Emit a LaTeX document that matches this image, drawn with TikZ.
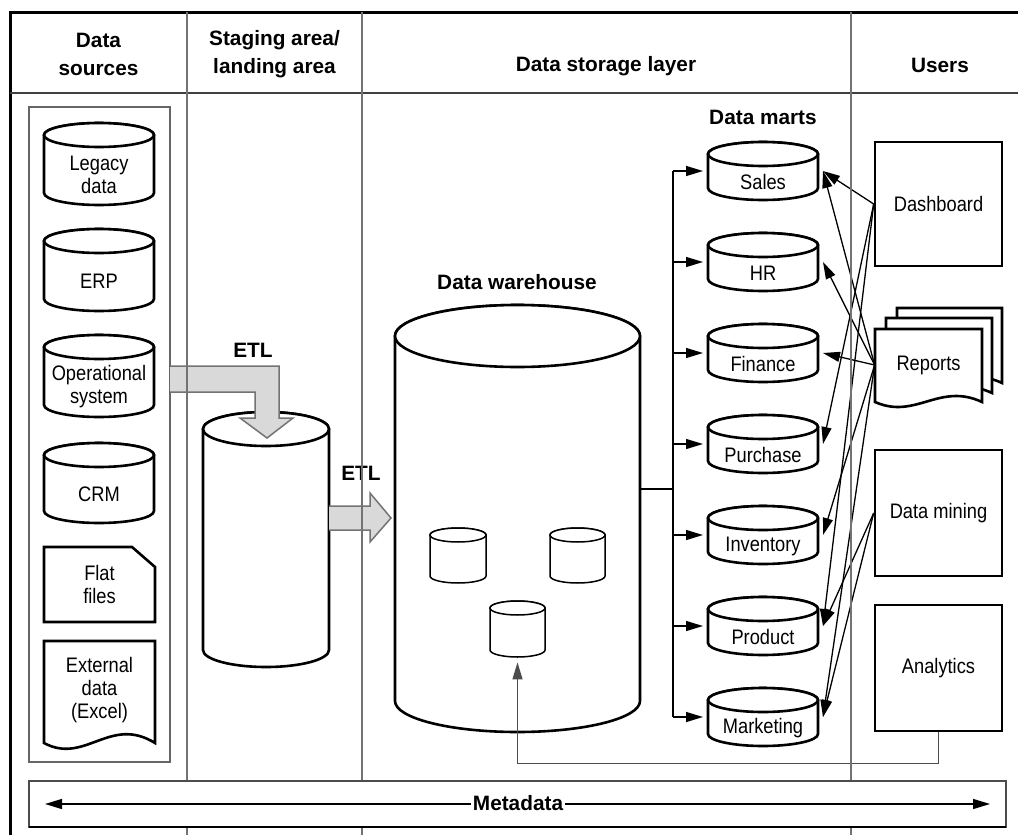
\documentclass[tikz,border=0pt]{standalone}
\usepackage{fontspec}
\setmainfont{Liberation Sans}
\newfontfamily\narrowsans{Liberation Sans}[FakeStretch=0.87]
\usetikzlibrary{arrows.meta}

% cylinder: name, left x, top y, width, height, cap radius, line style
\newcommand\drum[7]{%
  \draw[#7] ({#2},{#3+#6}) -- ({#2},{#3+#5-#6})
     arc[start angle=180,end angle=0,x radius={#4/2},y radius={#6}]
     -- ({#2+#4},{#3+#6})
     arc[start angle=0,end angle=-180,x radius={#4/2},y radius={#6}] -- cycle;
  \draw[#7] ({#2+#4/2},{#3+#6}) ellipse[x radius={#4/2},y radius={#6}];
  \node[drumnode,minimum width={#4*0.5pt},minimum height={#5*0.5pt}] (#1) at ({#2+#4/2},{#3+#5/2}) {};
}
% document sheet with a wavy lower edge: left x, top y, width, base y, style
\newcommand\sheet[5]{%
  \draw[#5] ({#1},{#2}) -- ({#1+#3},{#2}) -- ({#1+#3},{#4})
     .. controls ({#1+0.6*#3},{#4-20}) and ({#1+0.38*#3},{#4+18}) .. ({#1},{#4}) -- cycle;
}

\begin{document}
\begin{tikzpicture}[x=0.5pt,y=-0.5pt,
  >={Triangle[length=8.5pt,width=5pt]},
  every node/.style={inner sep=0pt},
  lbl/.style={font=\narrowsans\fontsize{10.5}{11.5}\selectfont,align=center},
  head/.style={font=\bfseries\fontsize{10.4}{14}\selectfont,align=center},
  bold/.style={font=\bfseries\fontsize{10.4}{12.5}\selectfont},
  frame/.style={line width=1.5pt,draw=black},
  colline/.style={line width=0.75pt,draw=black!55},
  hline/.style={line width=0.8pt,draw=black!75},
  group/.style={line width=0.6pt,draw=black!60},
  shp/.style={line width=1.3pt,draw=black,fill=white},
  thinshp/.style={line width=0.75pt,draw=black,fill=white},
  etl/.style={line width=0.75pt,draw=black!55,fill=black!15},
  conn/.style={line width=0.65pt,draw=black},
  fb/.style={line width=0.65pt,draw=black!70},
  drumnode/.style={},
]
\useasboundingbox (0,0) rectangle (1018,835);
\fill[white] (0,0) rectangle (1018,835);

% ---------- frame and header ----------
\draw[frame] (10,835) -- (10,12) -- (1018,12);
\draw[hline] (10,93) -- (1018,93);
\node[head] (h-src) at (98.5,54) {Data\\sources};
\node[head] (h-stg) at (274.5,54) {Staging area/\\landing area};
\node[head] (h-dsl) at (606,66) {Data storage layer};
\node[head] (h-usr) at (940,65) {Users};

% ---------- data sources ----------
\draw[group] (29,107) rectangle (170,762);
\drum{legacy}{44}{123}{110}{82}{12}{shp}
\drum{erp}{44}{229}{110}{82}{12}{shp}
\drum{ops}{44}{335}{110}{82}{12}{shp}
\drum{crm}{44}{443}{110}{80}{12}{shp}
\node[lbl] (legacy-t) at (99,175) {Legacy\\data};
\node[lbl] (erp-t) at (99,281) {ERP};
\node[lbl] (ops-t) at (99,387) {Operational\\system};
\node[lbl] (crm-t) at (99,494) {CRM};
\draw[shp] (44,547) -- (132,547) -- (155,567) -- (155,622) -- (44,622) -- cycle;
\node[lbl] (flat) at (99.5,584) {Flat\\files};
\draw[shp] (44,641) -- (155,641) -- (155,743)
   .. controls (110,715) and (85,765) .. (44,743) -- cycle;
\node[lbl] (ext) at (99.5,690) {External\\data\\(Excel)};

% ---------- staging area ----------
\drum{stage}{203}{412}{126}{255}{17}{shp}

% ---------- data warehouse ----------
\node[bold] (dw-t) at (517,282) {Data warehouse};
\drum{dw}{395}{305}{245}{427}{31}{shp}
\drum{dw1}{430}{528}{56}{55}{7}{thinshp}
\drum{dw2}{550}{528}{55}{55}{7}{thinshp}
\drum{dw3}{490}{601}{55}{56}{7}{thinshp}

% ---------- ETL arrows ----------
\draw[etl] (170,366) -- (279,366) -- (279,418) -- (293,418) -- (267,438)
   -- (240,418) -- (255,418) -- (255,392) -- (170,392);
\draw[etl] (329,506) -- (370,506) -- (370,493) -- (391,518) -- (370,542)
   -- (370,530) -- (329,530);
\node[bold] (etl1) at (253,350) {ETL};
\node[bold] (etl2) at (361,473) {ETL};

% ---------- data marts ----------
\node[bold] (marts-t) at (763,117) {Data marts};
\begin{scope}[drumnode/.style={outer xsep=2.5pt}]
\drum{sales}{708}{142}{110}{58}{12}{shp}
\drum{hr}{708}{233}{110}{58}{12}{shp}
\drum{fin}{708}{324}{110}{58}{12}{shp}
\drum{pur}{708}{415}{110}{58}{12}{shp}
\drum{inv}{708}{506}{110}{58}{12}{shp}
\drum{prod}{708}{597}{110}{58}{12}{shp}
\drum{mkt}{708}{688}{110}{58}{12}{shp}
\end{scope}
\node[lbl] (sales-t) at (763,182) {Sales};
\node[lbl] (hr-t) at (763,273) {HR};
\node[lbl] (fin-t) at (763,364) {Finance};
\node[lbl] (pur-t) at (763,455) {Purchase};
\node[lbl] (inv-t) at (763,546) {Inventory};
\node[lbl] (prod-t) at (763,637) {Product};
\node[lbl] (mkt-t) at (763,728) {Marketing};

% warehouse feeds the marts through one bus
\coordinate (bus) at (673,489);
\draw[conn] (dw.east |- bus) -- (bus);
\draw[conn] (bus |- sales) -- (bus |- mkt);
\foreach \m in {sales,hr,fin,pur,inv,prod,mkt}
  \draw[conn,->] (bus |- \m) -- (\m.west);

% ---------- users ----------
\node[shp,lbl,minimum width=63.5pt,minimum height=62pt] (dash) at (938.5,204) {Dashboard};
\sheet{897}{308}{105}{383}{shp}
\sheet{886}{318}{106}{393}{shp}
\sheet{875}{329}{107}{402}{shp}
\node[lbl,minimum width=53.5pt,minimum height=36.5pt] (rep) at (928.5,365) {Reports};
\node[shp,lbl,minimum width=63.5pt,minimum height=63pt] (dm) at (938.5,513) {Data mining};
\node[shp,lbl,minimum width=63.5pt,minimum height=63pt] (ana) at (938.5,668) {Analytics};

% users query the marts
\foreach \m in {sales,pur,prod}
  \draw[conn,->] (dash.west) -- (\m.east);
\foreach \m in {sales,hr,fin,inv,mkt}
  \draw[conn,->] (rep.west) -- (\m.east);
\foreach \m in {prod,mkt}
  \draw[conn,->] (dm.west) -- (\m.east);

% analytics results go back into the warehouse
\draw[fb,->,shorten >=2.5pt] (ana.south) -- ++(0,31) -| (dw3.south);

% ---------- column rules ----------
\draw[colline] (187,12) -- (187,835);
\draw[colline] (362,12) -- (362,835);
\draw[colline] (851,12) -- (851,835);

% ---------- metadata band ----------
\draw[line width=0.6pt,draw=black!70,fill=white] (29,781) rectangle (1006,827);
\draw[line width=1.3pt] (29,827) -- (1006,827);
\node[bold,fill=white,inner xsep=1pt] (meta) at (518,803) {Metadata};
\coordinate (metaL) at (45,804);
\coordinate (metaR) at (990,804);
\draw[conn,->] (meta.west |- metaL) -- (metaL);
\draw[conn,->] (meta.east |- metaR) -- (metaR);
\end{tikzpicture}
\end{document}
